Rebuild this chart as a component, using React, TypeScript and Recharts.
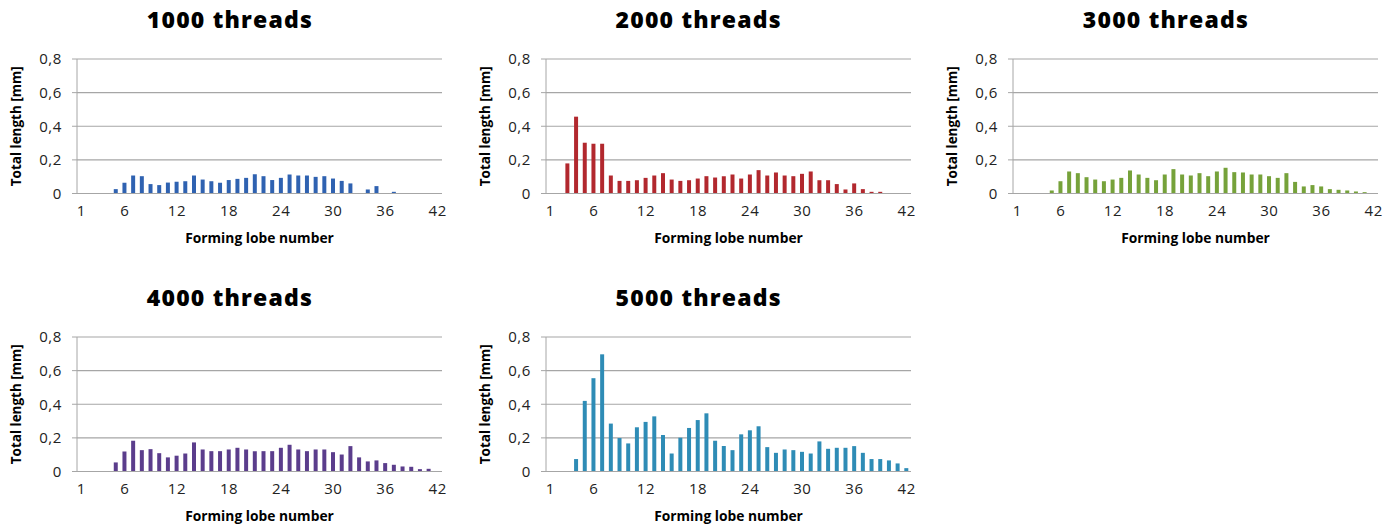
import { Bar, BarChart, CartesianGrid, XAxis, YAxis } from "recharts";

const LOBES = [
	1, 2, 3, 4, 5, 6, 7, 8, 9, 10, 11, 12, 13, 14, 15, 16, 17, 18, 19, 20, 21,
	22, 23, 24, 25, 26, 27, 28, 29, 30, 31, 32, 33, 34, 35, 36, 37, 38, 39, 40,
	41, 42,
];
const X_TICKS = [1, 6, 12, 18, 24, 30, 36, 42];
const Y_TICKS = [0, 0.2, 0.4, 0.6, 0.8];

// values per forming lobe
const T1000 = [
	0, 0, 0, 0, 0.026, 0.064, 0.107, 0.103, 0.056, 0.05, 0.065, 0.07, 0.073,
	0.107, 0.083, 0.073, 0.064, 0.08, 0.087, 0.093, 0.115, 0.103, 0.08, 0.093,
	0.113, 0.107, 0.107, 0.099, 0.103, 0.089, 0.075, 0.06, 0, 0.024, 0.044, 0,
	0.01, 0, 0, 0, 0, 0,
];
const T2000 = [
	0, 0, 0.179, 0.457, 0.302, 0.296, 0.296, 0.107, 0.075, 0.075, 0.079, 0.093,
	0.107, 0.121, 0.083, 0.075, 0.079, 0.089, 0.103, 0.095, 0.103, 0.113, 0.089,
	0.113, 0.139, 0.107, 0.125, 0.107, 0.103, 0.117, 0.131, 0.079, 0.079, 0.056,
	0.024, 0.06, 0.026, 0.01, 0.01, 0, 0, 0,
];
const T3000 = [
	0, 0, 0, 0, 0.018, 0.073, 0.131, 0.121, 0.097, 0.083, 0.073, 0.083, 0.093,
	0.137, 0.113, 0.093, 0.079, 0.113, 0.145, 0.113, 0.107, 0.121, 0.103, 0.131,
	0.153, 0.127, 0.125, 0.113, 0.113, 0.103, 0.093, 0.121, 0.069, 0.042, 0.05,
	0.042, 0.026, 0.022, 0.018, 0.012, 0.008, 0,
];
const T4000 = [
	0, 0, 0, 0, 0.054, 0.119, 0.183, 0.127, 0.133, 0.109, 0.084, 0.094, 0.107,
	0.173, 0.131, 0.121, 0.121, 0.131, 0.141, 0.131, 0.121, 0.121, 0.121, 0.141,
	0.159, 0.131, 0.121, 0.131, 0.131, 0.115, 0.101, 0.151, 0.084, 0.06, 0.066,
	0.05, 0.04, 0.03, 0.028, 0.014, 0.016, 0,
];
const T5000 = [
	0, 0, 0, 0.074, 0.42, 0.555, 0.697, 0.285, 0.199, 0.167, 0.263, 0.295, 0.328,
	0.217, 0.107, 0.201, 0.259, 0.306, 0.346, 0.183, 0.151, 0.127, 0.221, 0.245,
	0.269, 0.145, 0.111, 0.131, 0.127, 0.117, 0.107, 0.179, 0.135, 0.141, 0.141,
	0.151, 0.111, 0.074, 0.074, 0.066, 0.048, 0.02,
];

const FONT = "'Open Sans', sans-serif";
const GRID = "#a6a6a6";

function fmtY(v: number): string {
	return v === 0 ? "0" : v.toFixed(1).replace(".", ",");
}

interface PanelProps {
	title: string;
	values: number[];
	color: string;
	left: number;
	top: number;
}

function Panel({ title, values, color, left, top }: PanelProps) {
	const data = LOBES.map((lobe, i) => ({ lobe, value: values[i] }));
	const tickStyle = { fontSize: 15, fill: "#222", fontFamily: FONT, letterSpacing: 0.6 };
	return (
		<div style={{ position: "absolute", left, top, width: 460, height: 260 }}>
			<div
				style={{
					position: "absolute",
					left: 0,
					top: 8,
					width: 460,
					textAlign: "center",
					fontFamily: FONT,
					fontWeight: 800,
					fontSize: 23,
					lineHeight: 1,
					letterSpacing: 1.2,
					color: "#000",
				}}
			>
				{title}
			</div>
			<BarChart
				width={460}
				height={260}
				data={data}
				margin={{ top: 59, right: 18, left: 0, bottom: 11.5 }}
				barSize={4}
			>
				<CartesianGrid vertical={false} stroke={GRID} strokeWidth={1.2} />
				<XAxis
					dataKey="lobe"
					ticks={X_TICKS}
					interval={0}
					height={55}
					tickLine={false}
					tickSize={0}
					tickMargin={12}
					stroke={GRID}
					tick={tickStyle}
					label={{
						value: "Forming lobe number",
						position: "insideBottom",
						offset: 6,
						style: {
							fontFamily: FONT,
							fontWeight: 700,
							fontSize: 13.8,
							fill: "#000",
						},
					}}
				/>
				<YAxis
					width={77}
					domain={[0, 0.8]}
					ticks={Y_TICKS}
					tickFormatter={fmtY}
					tickSize={5}
					tickMargin={10}
					stroke={GRID}
					tick={tickStyle}
					label={{
						value: "Total length [mm]",
						angle: -90,
						position: "insideLeft",
						offset: 16,
						style: {
							textAnchor: "middle",
							fontFamily: FONT,
							fontWeight: 700,
							fontSize: 13.5,
							fill: "#000",
						},
					}}
				/>
				<Bar dataKey="value" fill={color} isAnimationActive={false} />
			</BarChart>
		</div>
	);
}

export default function App() {
	return (
		<div
			style={{
				position: "absolute",
				left: 0,
				top: 0,
				width: 1397,
				height: 528,
				background: "#fff",
				overflow: "hidden",
			}}
		>
			<Panel title="1000 threads" values={T1000} color="#2f62b1" left={0} top={0} />
			<Panel title="2000 threads" values={T2000} color="#b2282e" left={468.7} top={0} />
			<Panel title="3000 threads" values={T3000} color="#76a23a" left={936} top={0} />
			<Panel title="4000 threads" values={T4000} color="#5b3d8c" left={0} top={278.3} />
			<Panel title="5000 threads" values={T5000} color="#2e8cb6" left={468.7} top={278.3} />
		</div>
	);
}
